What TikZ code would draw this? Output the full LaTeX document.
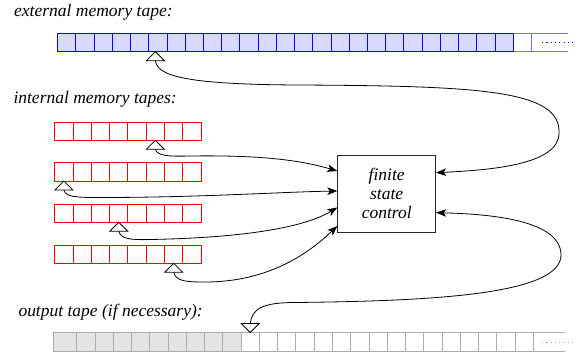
\documentclass[tikz,border=0pt]{standalone}
\usepackage{fontspec}
\setmainfont{Liberation Serif}
\usetikzlibrary{arrows.meta,calc}
\definecolor{extfill}{RGB}{217,217,255}
\definecolor{outfill}{RGB}{228,228,228}
\definecolor{outline}{RGB}{172,172,172}

\begin{document}
\begin{tikzpicture}[x=1pt,y=-1pt,
  lbl/.style={font=\fontsize{17.5}{19.2}\selectfont\itshape, anchor=base west, inner sep=0pt},
  cellbase/.style={minimum height=18.4pt, inner sep=0pt, outer sep=0pt, anchor=north west, line width=0.9pt},
  extcell/.style={cellbase, minimum width=18.22pt, draw=blue, fill=extfill},
  intcell/.style={cellbase, minimum width=18.3pt, minimum height=18.3pt, draw=red, fill=white},
  outcell/.style={cellbase, minimum width=18.27pt, minimum height=19.4pt, draw=outline, fill=white},
  ctrl/.style={draw=black!85, line width=0.8pt, minimum width=98pt, minimum height=77pt, inner sep=0pt,
    align=center, font=\fontsize{17.5}{19.2}\selectfont\itshape},
  headtri/.style={draw=black, line width=0.8pt, fill=white, line join=miter},
  headlink/.style={line width=0.8pt, -{Stealth[length=10pt,width=7.5pt,inset=2.5pt]}},
  tapedots/.style={line width=0.9pt, dash pattern=on 1.2pt off 3.1pt},
]
\useasboundingbox[fill=white] (0,0) rectangle (584,360);

% labels
\node[lbl] (extlabel) at (14,16.7) {external memory tape:};
\node[lbl] (intlabel) at (13.3,103) {internal memory tapes:};
\node[lbl] (outlabel) at (18.3,316.7) {output tape (if necessary):};

% external tape: 25 used cells, one blank cell, open end
\node[extcell, draw=blue!55, fill=white] (e25) at ({57.7+18.22*25},33.3) {};
\draw[blue!55, line width=0.9pt] (e25.north east) -- ++(36.5,0)
  (e25.south east) -- ++(36.5,0);
\draw[blue, tapedots] (542,42.5) -- (574,42.5);
\foreach \k in {0,...,24}
  \node[extcell] (e\k) at ({57.7+18.22*\k},33.3) {};

% internal tapes
\foreach \t/\y in {1/122,2/162.7,3/204,4/245}
  \foreach \k in {0,...,7}
    \node[intcell] (i\t-\k) at ({54.7+18.3*\k},\y) {};

% output tape: written part in grey, blank part white
\node[outcell, fill=outfill, minimum width=23.4pt] (o0) at (53.3,332.5) {};
\foreach \k in {1,...,9}
  \node[outcell, fill=outfill] (o\k) at ({76.7+18.27*(\k-1)},332.5) {};
\foreach \k in {10,...,25}
  \node[outcell] (o\k) at ({76.7+18.27*(\k-1)},332.5) {};
\draw[outline, line width=0.9pt] (o25.north east) -- (565,332.5)
  (o25.south east) -- (565,351.9);
\draw[outline, tapedots] (542,342.2) -- (574,342.2);

% read/write heads: triangles under (or above) the scanned cell
\coordinate (hE) at ($([xshift=-2.5pt]e5.south)+(0,9)$);
\coordinate (h1) at ($(i1-5.south)+(0,9)$);
\coordinate (h2) at ($(i2-0.south)+(0,9)$);
\coordinate (h3) at ($(i3-3.south)+(0,9)$);
\coordinate (h4) at ($(i4-6.south)+(0,9)$);
\coordinate (hO) at ($(o10.north)+(0,-9)$);
\foreach \h in {hE,h1,h2,h3,h4}
  \draw[headtri] (\h) -- ++(9,0) -- ++(-9,-9) -- ++(-9,9) -- cycle;
\draw[headtri] (hO) -- ++(9,0) -- ++(-9,9) -- ++(-9,-9) -- cycle;

% finite state control
\node[ctrl] (fsc) at (386.7,193.5) {finite\\state\\control};
\coordinate (fscL1) at (fsc.west |- 0,171);
\coordinate (fscL2) at (fsc.west |- 0,191);
\coordinate (fscL3) at (fsc.west |- 0,207.5);
\coordinate (fscL4) at (fsc.west |- 0,226);
\coordinate (fscR1) at (fsc.east |- 0,172.7);
\coordinate (fscR2) at (fsc.east |- 0,212.7);

% heads linked to the control
\draw[headlink] (hE) .. controls (157.5,75) and (180,84.5) .. (300,85)
  .. controls (480,86) and (561,90) .. (559,133)
  .. controls (559,165) and (490,170) .. (fscR1);
\draw[headlink] (h1) .. controls (157.5,156) and (168,156.5) .. (190,156)
  .. controls (260,155) and (300,160) .. (fscL1);
\draw[headlink] (h2) .. controls (66,197) and (75,197.5) .. (100,197.5)
  .. controls (200,197.5) and (280,192) .. (fscL2);
\draw[headlink] (h3) .. controls (121,239) and (130,240) .. (150,239.5)
  .. controls (230,238) and (300,230) .. (fscL3);
\draw[headlink] (h4) .. controls (176,281) and (185,282) .. (205,282)
  .. controls (270,282) and (310,252) .. (fscL4);
\draw[headlink] (hO) .. controls (252,309) and (262,302.5) .. (295,302.5)
  .. controls (430,301) and (561,295) .. (561,255)
  .. controls (561,220) and (490,214) .. (fscR2);
\end{tikzpicture}
\end{document}
